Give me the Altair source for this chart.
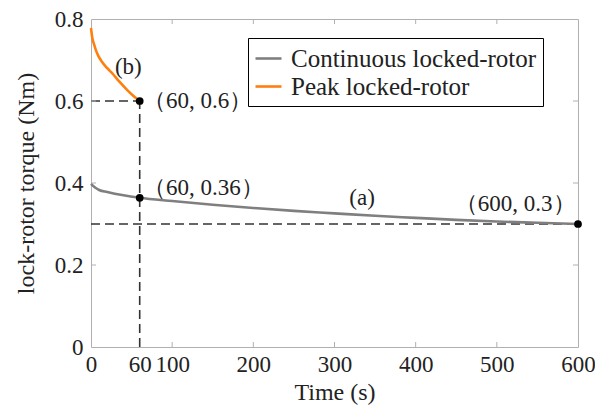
import altair as alt
import pandas as pd

# ---- data ----
cont_t = [0, 5, 10, 20, 40, 60, 100, 150, 200, 250, 300, 350, 400, 450, 500, 550, 600]
cont_v = [0.398, 0.389, 0.383, 0.378, 0.370, 0.364, 0.356, 0.347, 0.339, 0.332, 0.326, 0.320, 0.315, 0.310, 0.306, 0.303, 0.300]
peak_t = [0, 1, 2, 3.5, 6, 9, 13, 20, 26, 35, 45, 52, 60]
peak_v = [0.778, 0.762, 0.750, 0.740, 0.724, 0.710, 0.697, 0.680, 0.668, 0.647, 0.626, 0.613, 0.600]
series_names = ["Continuous locked-rotor", "Peak locked-rotor"]
series_colors = ["#7f7f7f", "#ff7f0e"]

guide_x = [0, 60, 0]
guide_x2 = [60, 60, 600]
guide_y = [0.6, 0.0, 0.3]
guide_y2 = [0.6, 0.6, 0.3]

pts_t = [60, 60, 600]
pts_v = [0.6, 0.364, 0.3]

labels_text = ["(b)", "（60, 0.6）", "（60, 0.36）", "(a)", "（600, 0.3）"]
labels_t = [46, 64, 64, 334, 597]
labels_v = [0.683, 0.6, 0.388, 0.363, 0.350]
labels_align = ["center", "left", "left", "center", "right"]

x_ticks = [0, 60, 100, 200, 300, 400, 500, 600]
y_ticks = [0, 0.2, 0.4, 0.6, 0.8]
inner_x_ticks = [100, 200, 300, 400, 500]
inner_y_ticks = [0.2, 0.4, 0.6]

FONT = "Liberation Serif"
W, H = 487, 328

curve_df = pd.DataFrame(
    {"t": cont_t + peak_t,
     "v": cont_v + peak_v,
     "s": [series_names[0]] * len(cont_t) + [series_names[1]] * len(peak_t)}
)
guide_df = pd.DataFrame({"x": guide_x, "x2": guide_x2, "y": guide_y, "y2": guide_y2})
pts_df = pd.DataFrame({"t": pts_t, "v": pts_v})
lab_df = pd.DataFrame({"t": labels_t, "v": labels_v, "txt": labels_text, "al": labels_align})

xs = alt.Scale(domain=[0, 600], nice=False)
ys = alt.Scale(domain=[0, 0.8], nice=False)

x_axis = alt.Axis(values=x_ticks, title="Time (s)", grid=False, ticks=False, domain=False,
                  labelFont=FONT, labelFontSize=23, labelColor="#222", labelPadding=6,
                  titleFont=FONT, titleFontSize=24, titleFontWeight="normal", titleColor="#222",
                  titlePadding=4, labelFlush=False)
y_axis = alt.Axis(values=y_ticks, title="lock-rotor torque (Nm)", grid=False, ticks=False, domain=False,
                  labelFont=FONT, labelFontSize=23, labelColor="#222", labelPadding=8,
                  titleFont=FONT, titleFontSize=24, titleFontWeight="normal", titleColor="#222",
                  titlePadding=16, labelFlush=False,
                  labelExpr="datum.value == 0 ? '0' : format(datum.value, '.1f')")

guides = alt.Chart(guide_df).mark_rule(color="#333", strokeWidth=1.6, strokeDash=[9, 5]).encode(
    x=alt.X("x:Q", scale=xs, axis=x_axis), x2="x2:Q",
    y=alt.Y("y:Q", scale=ys, axis=y_axis), y2="y2:Q")

# inward tick marks on the frame
xt_df = pd.DataFrame({"x": inner_x_ticks})
yt_df = pd.DataFrame({"y": inner_y_ticks})
tick_style = dict(color="#b0b0b0", strokeWidth=1)
xt_bot = alt.Chart(xt_df).mark_rule(**tick_style).encode(
    x=alt.X("x:Q", scale=xs), y=alt.value(H), y2=alt.value(H - 5))
xt_top = alt.Chart(xt_df).mark_rule(**tick_style).encode(
    x=alt.X("x:Q", scale=xs), y=alt.value(0), y2=alt.value(5))
yt_left = alt.Chart(yt_df).mark_rule(**tick_style).encode(
    y=alt.Y("y:Q", scale=ys), x=alt.value(0), x2=alt.value(5))
yt_right = alt.Chart(yt_df).mark_rule(**tick_style).encode(
    y=alt.Y("y:Q", scale=ys), x=alt.value(W), x2=alt.value(W - 5))

lines = alt.Chart(curve_df).mark_line(strokeWidth=2.6, interpolate="monotone").encode(
    x=alt.X("t:Q", scale=xs),
    y=alt.Y("v:Q", scale=ys),
    color=alt.Color("s:N", scale=alt.Scale(domain=series_names, range=series_colors),
                    legend=alt.Legend(title=None, orient="none", legendX=157, legendY=19,
                                      symbolType="stroke", symbolStrokeWidth=2.6, symbolSize=676,
                                      labelFont=FONT, labelFontSize=25, labelColor="#222",
                                      strokeColor="black", fillColor="white", padding=6,
                                      rowPadding=0, labelOffset=8, labelLimit=400)),
)

pts = alt.Chart(pts_df).mark_circle(color="black", size=60, opacity=1).encode(
    x=alt.X("t:Q", scale=xs), y=alt.Y("v:Q", scale=ys))

texts = []
for al in ["left", "center", "right"]:
    texts.append(
        alt.Chart(lab_df[lab_df["al"] == al]).mark_text(
            font=FONT, fontSize=23, color="#222", align=al, baseline="middle").encode(
            x=alt.X("t:Q", scale=xs), y=alt.Y("v:Q", scale=ys), text="txt:N"))

chart = alt.layer(guides, xt_bot, xt_top, yt_left, yt_right, lines, pts, *texts).properties(
    width=W, height=H,
    autosize=alt.AutoSizeParams(type="none"),
    padding={"left": 83, "top": 11, "right": 17, "bottom": 62},
    background="white",
).configure_view(stroke="#b0b0b0", strokeWidth=1)

chart.save("out.html", embed_options={"renderer": "svg", "actions": False})
